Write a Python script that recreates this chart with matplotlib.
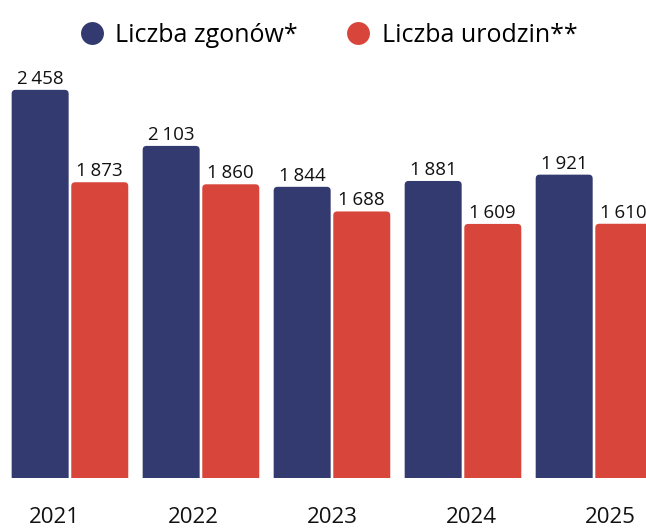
import numpy as np
import matplotlib.pyplot as plt
from matplotlib.patches import FancyBboxPatch
from matplotlib.lines import Line2D

plt.rcParams['font.family'] = ['Open Sans', 'DejaVu Sans']

years = ['2021', '2022', '2023', '2024', '2025']
zgony = [2458, 2103, 1844, 1881, 1921]
urodzenia = [1873, 1860, 1688, 1609, 1610]

blue = '#323a70'
red = '#d8463b'

fig = plt.figure(figsize=(6.46, 5.32), dpi=100)
ax = fig.add_axes([0, 0.1015, 1, 0.8985])

x = np.arange(len(years))
w = 0.435
off = 0.2275
b1 = ax.bar(x - off, zgony, w, color=blue)
b2 = ax.bar(x + off, urodzenia, w, color=red)

ax.set_xlim(-0.534, 4.397)
ax.set_ylim(0, 3027)

# rounded tops: replace bars with fancy boxes that go below the axis
aspect = (3027 / 478) / (4.931 / 646)
for bars in (b1, b2):
    for p in bars:
        p.set_visible(False)
        bx, bw, bh = p.get_x(), p.get_width(), p.get_height()
        fb = FancyBboxPatch((bx, -200), bw, bh + 200,
                            boxstyle='round,pad=0,rounding_size=0.03',
                            mutation_aspect=aspect,
                            facecolor=p.get_facecolor(), edgecolor='none',
                            clip_on=True)
        ax.add_patch(fb)

def fmt(v):
    return f'{v:,}'.replace(',', '\u202f')

for bars, vals in ((b1, zgony), (b2, urodzenia)):
    for p, v in zip(bars, vals):
        ax.annotate(fmt(v), (p.get_x() + p.get_width() / 2, v),
                    xytext=(0, 1.5), textcoords='offset points',
                    ha='center', va='bottom', fontsize=13.5, color='#111111')

# year labels sit on a slightly wider spacing than the bar groups
tick_pos = 2 + (x - 2) * 1.061
ax.set_xticks(tick_pos)
ax.set_xticklabels(years, fontsize=16, color='#111111')
ax.tick_params(axis='x', length=0, pad=21)
ax.set_yticks([])
for s in ax.spines.values():
    s.set_visible(False)

handles = [Line2D([], [], marker='o', linestyle='none', markersize=16.5,
                  markerfacecolor=blue, markeredgecolor='none'),
           Line2D([], [], marker='o', linestyle='none', markersize=16.5,
                  markerfacecolor=red, markeredgecolor='none')]
fig.legend(handles, ['Liczba zgonów*', 'Liczba urodzin**'],
           loc='upper center', bbox_to_anchor=(0.506, 1.0), ncol=2,
           frameon=False, fontsize=18, handletextpad=0.35,
           columnspacing=1.8, handlelength=1.2)

fig.savefig('out.png', dpi=100)
